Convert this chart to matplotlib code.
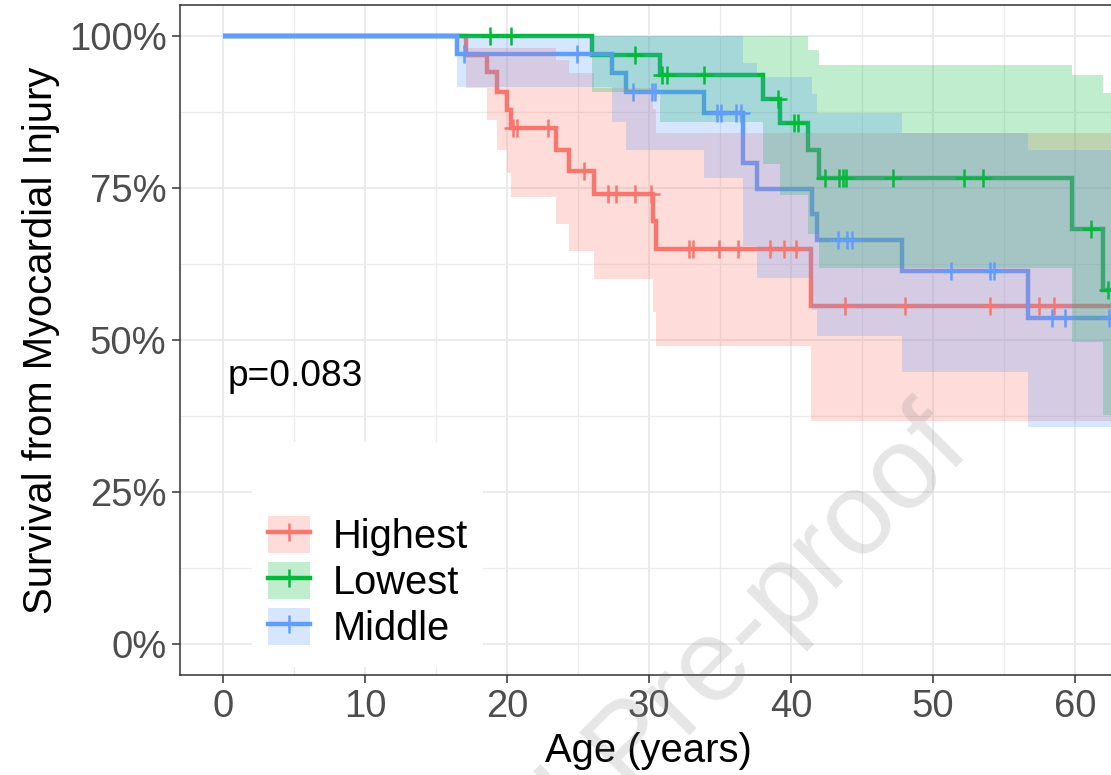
import numpy as np
import matplotlib
matplotlib.use("Agg")
import matplotlib.pyplot as plt
from matplotlib.patches import Patch, Rectangle
from matplotlib.lines import Line2D
from matplotlib.ticker import FixedLocator, FuncFormatter

plt.rcParams['font.family'] = ['Liberation Sans', 'DejaVu Sans']

# ---------------- data ----------------
groups = ["Highest", "Lowest", "Middle"]
colors = ["#F8766D", "#00BA38", "#619CFF"]

# Highest
high_event_t = [17.1, 18.6, 19.3, 20.0, 20.3, 23.45, 24.4, 26.1, 30.25, 30.5, 41.4]
high_surv = [0.969, 0.940, 0.908, 0.878, 0.848, 0.8125, 0.778, 0.740, 0.695, 0.649, 0.556]
high_lower = [0.915, 0.862, 0.8125, 0.774, 0.735, 0.690, 0.646, 0.601, 0.546, 0.490, 0.367]
high_upper = [0.980, 0.980, 0.980, 0.980, 0.980, 0.961, 0.939, 0.914, 0.880, 0.840, 0.840]
high_censor = [20.4, 20.7, 22.9, 25.4, 27.1, 27.7, 29.0, 30.15, 32.8, 33.1, 34.95,
               36.3, 38.5, 39.5, 40.35, 43.8, 48.0, 54.0, 57.5, 58.5]

# Lowest
low_event_t = [26.0, 30.8, 38.0, 39.25, 41.2, 42.0, 59.8, 62.0]
low_surv = [0.969, 0.936, 0.896, 0.857, 0.8125, 0.767, 0.683, 0.583]
low_lower = [0.908, 0.858, 0.790, 0.738, 0.675, 0.618, 0.497, 0.377]
low_upper = [1.000, 1.000, 1.000, 1.000, 0.977, 0.952, 0.936, 0.906]
low_censor = [18.8, 20.3, 29.0, 30.9, 31.3, 33.9, 39.1, 40.2, 40.5, 42.4, 43.4,
              43.7, 43.9, 47.2, 52.2, 53.5, 61.1, 62.3]

# Middle
mid_event_t = [16.5, 27.4, 28.4, 33.9, 36.6, 37.6, 41.5, 41.85, 47.8, 56.7]
mid_surv = [0.970, 0.939, 0.908, 0.873, 0.791, 0.749, 0.708, 0.664, 0.614, 0.536]
mid_lower = [0.916, 0.859, 0.8125, 0.766, 0.655, 0.602, 0.550, 0.506, 0.448, 0.357]
mid_upper = [1.000, 1.000, 1.000, 1.000, 0.955, 0.933, 0.904, 0.874, 0.840, 0.8125]
mid_censor = [17.0, 24.9, 28.9, 30.2, 30.4, 34.8, 35.1, 36.1, 36.5, 43.3, 43.95,
              44.3, 51.3, 54.0, 54.3, 58.4, 59.3, 62.4]

p_label = "p=0.083"
x_ticks = [0, 10, 20, 30, 40, 50, 60]
y_ticks = [0, 0.25, 0.5, 0.75, 1.0]

series = [
    (high_event_t, high_surv, high_lower, high_upper, high_censor),
    (low_event_t, low_surv, low_lower, low_upper, low_censor),
    (mid_event_t, mid_surv, mid_lower, mid_upper, mid_censor),
]

X_MIN, X_MAX = -3.03, 62.54
Y_MIN, Y_MAX = -0.051, 1.051

# ---------------- figure ----------------
W, H = 1111, 775
fig = plt.figure(figsize=(W / 100, H / 100), dpi=100)
ax = fig.add_axes([180 / W, 100 / H, 931 / W, 670 / H])
ax.set_xlim(X_MIN, X_MAX)
ax.set_ylim(Y_MIN, Y_MAX)


def full_steps(t, v):
    tt = np.concatenate([[0.0], np.asarray(t, float), [X_MAX + 1]])
    vv = np.concatenate([[1.0], np.asarray(v, float), [v[-1]]])
    return tt, vv


LW = 3.2
# step lines (drawn beneath the ribbons, like survminer)
for (t, s, lo, up, cen), c in zip(series, colors):
    tt, ss = full_steps(t, s)
    ax.step(tt, ss, where='post', color=c, lw=LW, zorder=2,
            solid_joinstyle='miter', solid_capstyle='butt')

# confidence ribbons
for (t, s, lo, up, cen), c in zip(series, colors):
    tt, ll = full_steps(t, lo)
    _, uu = full_steps(t, up)
    ax.fill_between(tt, ll, uu, step='post', color=c, alpha=0.25, lw=0, zorder=3)

# censor marks
for (t, s, lo, up, cen), c in zip(series, colors):
    _, ss = full_steps(t, s)
    idx = np.searchsorted(np.asarray(t, float), np.asarray(cen, float), side='right')
    ax.plot(cen, ss[idx], ls='none', marker='+', ms=13, mew=1.8, color=c, zorder=4)

# ---------------- axes styling ----------------
ax.xaxis.set_major_locator(FixedLocator(x_ticks))
ax.xaxis.set_minor_locator(FixedLocator([5, 15, 25, 35, 45, 55]))
ax.yaxis.set_major_locator(FixedLocator(y_ticks))
ax.yaxis.set_minor_locator(FixedLocator([0.125, 0.375, 0.625, 0.875]))
ax.yaxis.set_major_formatter(FuncFormatter(lambda v, p: f"{int(round(v * 100))}%"))
ax.xaxis.set_major_formatter(FuncFormatter(lambda v, p: f"{int(v)}"))

ax.set_axisbelow(True)
ax.grid(which='major', color='#EBEBEB', lw=1.45)
ax.grid(which='minor', color='#EBEBEB', lw=0.9)
ax.tick_params(which='major', direction='out', length=5.8, width=1.1, color='#333333',
               labelsize=27.5, labelcolor='#4D4D4D', pad=4)
ax.tick_params(which='minor', length=0)
for side in ['left', 'bottom', 'top']:
    ax.spines[side].set_color('#333333')
    ax.spines[side].set_linewidth(1.1)
ax.spines['right'].set_visible(False)

fig.text(41 / W, 1 - 340 / H, "Survival from Myocardial Injury", rotation=90,
         ha='center', va='center', fontsize=28.8, color='black')
fig.text(648 / W, 1 - 751 / H, "Age (years)", ha='center', va='center',
         fontsize=28.8, color='black')

ax.text(0.35, 0.44, p_label, ha='left', va='center', fontsize=26.7, color='black', zorder=6)

# legend background box (hides gridlines as ggplot's legend background)
ax.add_patch(Rectangle((0.0773, 0.0119), 0.3255 - 0.0773, 0.3478 - 0.0119,
                       transform=ax.transAxes, facecolor='white', edgecolor='none',
                       zorder=1.5))

handles = []
for c in colors:
    handles.append((Patch(facecolor=c, alpha=0.25, edgecolor='none'),
                    Line2D([], [], color=c, lw=LW, marker='+', ms=13, mew=1.8)))
leg = ax.legend(handles, groups, loc='upper left', bbox_to_anchor=(0.0948, 0.2373),
                frameon=False, fontsize=28.7, borderpad=0, borderaxespad=0,
                handlelength=1.05, handleheight=1.05, handletextpad=0.58,
                labelspacing=0.145, numpoints=1)
leg.set_zorder(6)

# watermark
fig.text(973 / W, 1 - 452 / H, "Journal Pre-proof", rotation=45, rotation_mode='anchor',
         ha='right', va='baseline', fontsize=84, color='#808080', alpha=0.2, zorder=10)

fig.savefig("out.png", dpi=100)
